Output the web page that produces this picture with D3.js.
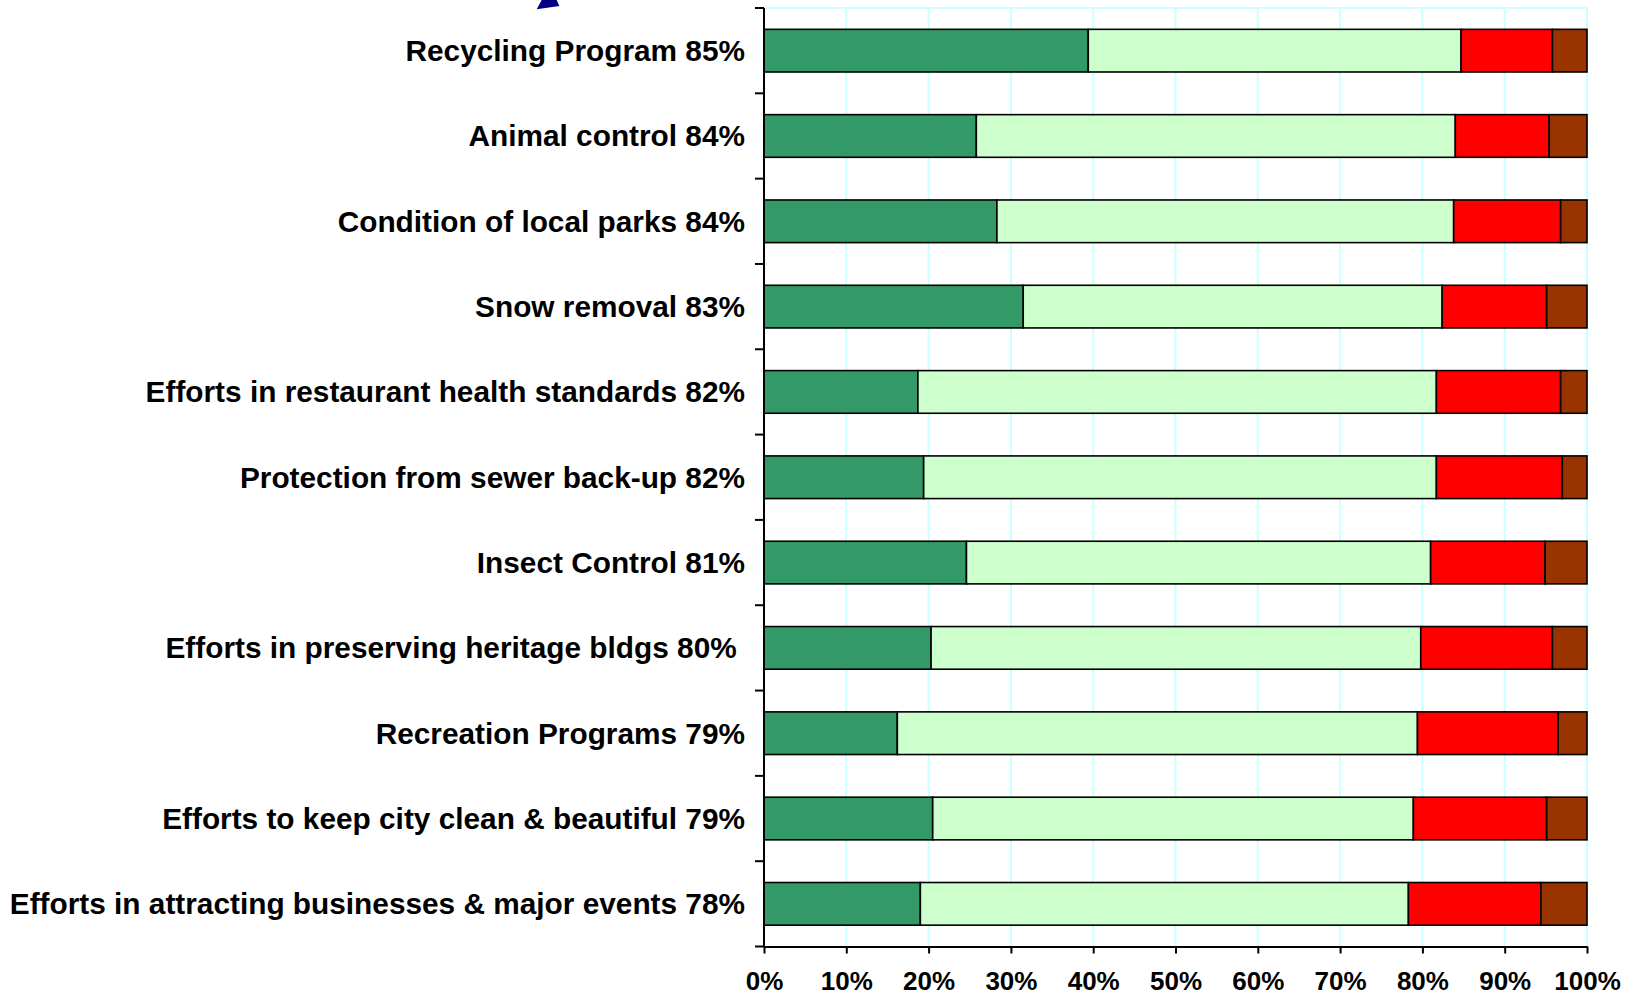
<!DOCTYPE html>
<html>
<head>
<meta charset="utf-8">
<script src="https://cdn.jsdelivr.net/npm/d3@7"></script>
<style>
  html, body { margin: 0; padding: 0; background: #ffffff; }
  svg { display: block; }
  text { font-family: "Liberation Sans", Arial, sans-serif; font-weight: bold; fill: #000; white-space: pre; }
</style>
</head>
<body>
<svg id="chart" width="1640" height="996"></svg>
<script>
// Service satisfaction, share of respondents per rating (percent)
const categories = [
  "Recycling Program 85%",
  "Animal control 84%",
  "Condition of local parks 84%",
  "Snow removal 83%",
  "Efforts in restaurant health standards 82%",
  "Protection from sewer back-up 82%",
  "Insect Control 81%",
  "Efforts in preserving heritage bldgs 80% ",
  "Recreation Programs 79%",
  "Efforts to keep city clean & beautiful 79%",
  "Efforts in attracting businesses & major events 78%"
];
const verySatisfied        = [39.4, 25.8, 28.3, 31.5, 18.7, 19.4, 24.6, 20.3, 16.2, 20.5, 19.0];
const somewhatSatisfied    = [45.3, 58.2, 55.5, 50.9, 63.0, 62.3, 56.4, 59.5, 63.2, 58.4, 59.3];
const somewhatDissatisfied = [11.1, 11.4, 13.0, 12.7, 15.1, 15.3, 13.9, 16.0, 17.1, 16.2, 16.1];
const veryDissatisfied     = [ 4.2,  4.6,  3.2,  4.9,  3.2,  3.0,  5.1,  4.2,  3.5,  4.9,  5.6];
const seriesKeys = ["verySatisfied", "somewhatSatisfied", "somewhatDissatisfied", "veryDissatisfied"];
const seriesColors = ["#339966", "#CCFFCC", "#FF0000", "#993300"];
const xTicks = [0, 10, 20, 30, 40, 50, 60, 70, 80, 90, 100];

const rows = categories.map((c, i) => ({
  category: c,
  verySatisfied: verySatisfied[i],
  somewhatSatisfied: somewhatSatisfied[i],
  somewhatDissatisfied: somewhatDissatisfied[i],
  veryDissatisfied: veryDissatisfied[i]
}));

const svg = d3.select("#chart");
const plot = { left: 764, right: 1587, top: 8, bottom: 946.5 };

const x = d3.scaleLinear().domain([0, 100]).range([plot.left, plot.right]);
const y = d3.scaleBand().domain(categories).range([plot.top, plot.bottom])
  .paddingInner(0.5).paddingOuter(0.25);
const color = d3.scaleOrdinal().domain(seriesKeys).range(seriesColors);

// vertical gridlines and the top border of the plot area
const grid = svg.append("g");
grid.selectAll("line.v").data(xTicks.filter(d => d > 0)).join("line")
  .attr("x1", d => x(d)).attr("x2", d => x(d))
  .attr("y1", plot.top).attr("y2", plot.bottom)
  .attr("stroke", "#CCFFFF").attr("stroke-width", 2);
grid.append("line")
  .attr("x1", plot.left).attr("x2", plot.right)
  .attr("y1", plot.top).attr("y2", plot.top)
  .attr("stroke", "#CCFFFF").attr("stroke-width", 2);

// stacked bars
const stacked = d3.stack().keys(seriesKeys)(rows);
svg.append("g").selectAll("g").data(stacked).join("g")
  .attr("fill", s => color(s.key))
  .selectAll("rect").data(s => s).join("rect")
  .attr("x", d => x(d[0]))
  .attr("width", d => x(d[1]) - x(d[0]))
  .attr("y", d => y(d.data.category))
  .attr("height", y.bandwidth())
  .attr("stroke", "#000").attr("stroke-width", 1.6);

// category axis: line with ticks between the bars
const step = y.step();
const y0 = plot.top;
const boundaries = d3.range(categories.length + 1).map(i => y0 + i * step);
const yAxis = svg.append("g");
yAxis.append("line")
  .attr("x1", plot.left).attr("x2", plot.left)
  .attr("y1", plot.top).attr("y2", plot.bottom)
  .attr("stroke", "#000").attr("stroke-width", 2);
yAxis.selectAll("line.t").data(boundaries).join("line")
  .attr("class", "t")
  .attr("x1", plot.left - 9).attr("x2", plot.left)
  .attr("y1", d => d).attr("y2", d => d)
  .attr("stroke", "#000").attr("stroke-width", 2);
yAxis.selectAll("text").data(categories).join("text")
  .attr("x", 745)
  .attr("y", d => y(d) + y.bandwidth() / 2 + 10.5)
  .attr("text-anchor", "end")
  .attr("font-size", 29.8)
  .text(d => d);

// percentage axis
const xAxis = svg.append("g")
  .attr("transform", `translate(0,${plot.bottom})`)
  .call(d3.axisBottom(x).tickValues(xTicks).tickFormat(d => d + "%").tickSize(7).tickSizeOuter(0));
xAxis.select(".domain").attr("stroke", "#000").attr("stroke-width", 2);
xAxis.selectAll(".tick line").attr("stroke", "#000").attr("stroke-width", 2);
xAxis.selectAll(".tick text")
  .attr("y", 43.5).attr("dy", 0)
  .attr("font-size", 26)
  .attr("font-family", "'Liberation Sans', Arial, sans-serif")
  .attr("font-weight", "bold")
  .attr("fill", "#000");

// pointer fragment at the top edge
svg.append("polygon")
  .attr("points", [[536.7, 9.3], [559.3, 6], [556.7, 0], [541.7, 0]].map(p => p.join(",")).join(" "))
  .attr("fill", "#000080");
</script>
</body>
</html>
